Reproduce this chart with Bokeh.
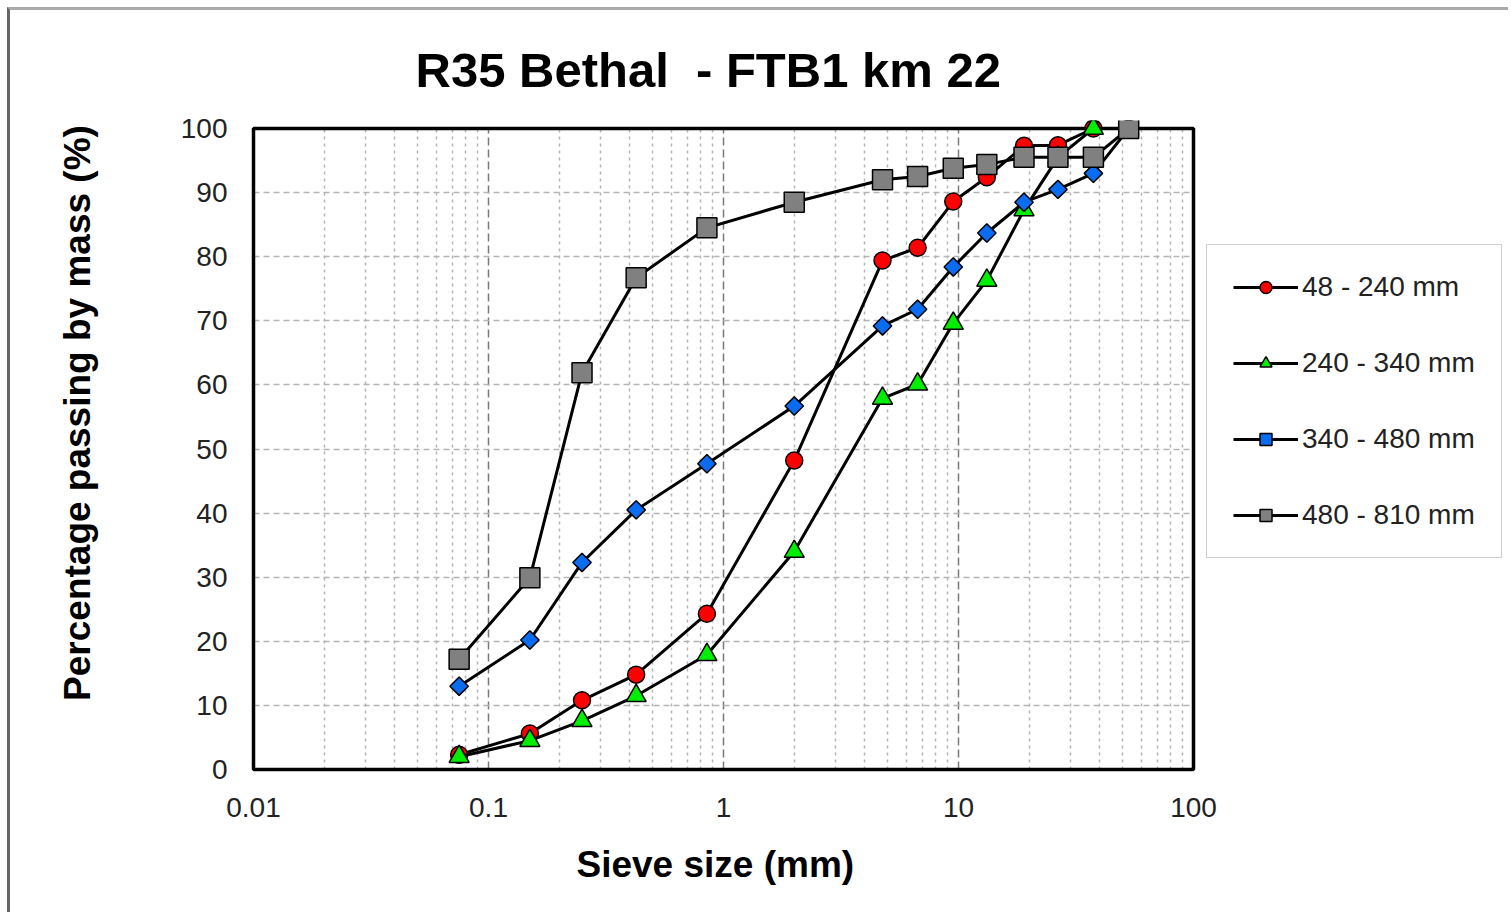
from bokeh.plotting import figure
from bokeh.models import (Range1d, FixedTicker, CustomJSTickFormatter, Legend,
                          LegendItem, Title, Grid, LinearAxis)
from bokeh.embed import file_html
from bokeh.resources import INLINE
import numpy as np

# ---------------- data ----------------
sieve_mm = [0.075, 0.15, 0.25, 0.425, 0.85, 2.0, 4.75, 6.7, 9.5, 13.2, 19.0, 26.5, 37.5, 53.0]
pass_48_240 = [2.3, 5.6, 10.8, 14.8, 24.3, 48.2, 79.4, 81.4, 88.6, 92.4, 97.3, 97.4, 100.0, 100.0]
pass_240_340 = [2.0, 4.5, 7.6, 11.5, 17.9, 34.0, 57.9, 60.1, 69.6, 76.3, 87.3, 95.5, 100.0, 100.0]
pass_340_480 = [13.0, 20.2, 32.3, 40.5, 47.7, 56.7, 69.2, 71.8, 78.4, 83.7, 88.5, 90.5, 93.0, 100.0]
pass_480_810 = [17.2, 29.9, 61.9, 76.7, 84.5, 88.5, 92.0, 92.5, 93.8, 94.4, 95.5, 95.5, 95.5, 100.0]
series_labels = ["48 - 240 mm", "240 - 340 mm", "340 - 480 mm", "480 - 810 mm"]
x_tick_values = [0.01, 0.1, 1, 10, 100]
y_tick_values = [0, 10, 20, 30, 40, 50, 60, 70, 80, 90, 100]
chart_title = "R35 Bethal\u00a0 - FTB1 km 22"
x_title = "Sieve size (mm)"
y_title = "Percentage passing by mass (%)"

OFF = 10                      # outer border offset (margin + border)
W, H = 1511 - OFF, 915 - OFF
# data-area edges in canvas pixels
DL, DR, DT, DB = 253 - OFF, 1193 - OFF, 128 - OFF, 769 - OFF
PAD = 8
# frame edges (frame also hosts the legend on the right)
FL, FR, FT, FB = DL - PAD, W, DT - PAD, DB + PAD
FONT = "Liberation Sans"

xmin, xmax = x_tick_values[0], x_tick_values[-1]
ymin, ymax = y_tick_values[0], y_tick_values[-1]
px_per_dec = (DR - DL) / (np.log10(xmax) - np.log10(xmin))
px_per_unit = (DB - DT) / (ymax - ymin)
x_start = 10 ** (np.log10(xmin) - (DL - FL) / px_per_dec)
x_end = 10 ** (np.log10(xmax) + (FR - DR) / px_per_dec)
y_start = ymin - (FB - DB) / px_per_unit
y_end = ymax + (DT - FT) / px_per_unit

p = figure(width=W, height=H, x_axis_type="log",
           x_range=Range1d(x_start, x_end), y_range=Range1d(y_start, y_end),
           output_backend="svg", toolbar_location=None,
           min_border_left=FL, min_border_right=0,
           min_border_top=FT, min_border_bottom=H - FB,
           background_fill_color="white", border_fill_color="white")
p.styles = {"margin-left": "7px", "margin-top": "7px",
            "border-left": "3px solid #666666",
            "border-top": "3px solid #aaaaaa"}
p.outline_line_color = None

# title
p.title.text = chart_title
p.title.text_font = FONT
p.title.text_font_size = "49px"
p.title.text_font_style = "bold"
p.title.text_color = "black"
p.title.align = "left"
p.title.offset = (415 - OFF) - FL
p.title.standoff = 48

# axes
minor = [k * 10.0 ** d for d in range(-2, 2) for k in range(2, 10)]
p.xaxis.ticker = FixedTicker(ticks=x_tick_values, minor_ticks=minor)
p.xaxis.formatter = CustomJSTickFormatter(code="return String(parseFloat(tick.toPrecision(6)))")
p.yaxis.ticker = FixedTicker(ticks=y_tick_values)
p.xaxis.bounds = (xmin, xmax)
p.yaxis.bounds = (ymin, ymax)
for ax in (p.xaxis[0], p.yaxis[0]):
    ax.axis_line_color = None
    ax.major_tick_line_color = None
    ax.minor_tick_line_color = None
    ax.major_label_text_font = FONT
    ax.major_label_text_font_size = "28px"
    ax.major_label_text_color = "#222222"
p.xaxis.major_label_standoff = 14
p.yaxis.major_label_standoff = 12

# y-axis title on a tick-less outer axis; leading no-break spaces lift the
# centred label so it sits where the reference has it
yl_axis = LinearAxis(ticker=FixedTicker(ticks=[]),
                     axis_label="\u00a0" * 7 + y_title,
                     axis_label_standoff=80,
                     axis_label_text_font=FONT, axis_label_text_font_size="37px",
                     axis_label_text_font_style="bold", axis_label_text_color="black",
                     axis_line_color=None, major_tick_line_color=None,
                     minor_tick_line_color=None, major_tick_out=0, minor_tick_out=0)
p.add_layout(yl_axis, "left")

# x-axis title
xlab = Title(text=x_title, align="left",
             offset=(576 - OFF) - FL, standoff=45,
             text_font=FONT, text_font_size="37px", text_font_style="bold",
             text_color="black")
p.add_layout(xlab, "below")

# grids
xg, yg = p.xgrid[0], p.ygrid[0]
xg.bounds = (xmin, xmax)
yg.bounds = (ymin, ymax)
if "cross_bounds" in Grid.properties():
    xg.cross_bounds = (ymin, ymax)
    yg.cross_bounds = (xmin, xmax)
xg.grid_line_color = "#7a7a7a"
xg.grid_line_dash = "8 4"
xg.grid_line_width = 1.5
xg.minor_grid_line_color = "#b4b4b4"
xg.minor_grid_line_dash = "3 4"
xg.minor_grid_line_width = 1.5
yg.grid_line_color = "#b4b4b4"
yg.grid_line_dash = "6 4"
yg.grid_line_width = 1.5

# plot-area border
p.quad(left=[xmin], right=[xmax], bottom=[ymin], top=[ymax],
       fill_color=None, line_color="black", line_width=3.5)

# series
series = [
    (pass_48_240, "circle", "#ff0000", 17, 0.0),
    (pass_240_340, "triangle", "#00ee00", 20, 0.0),
    (pass_340_480, "square", "#0a6cf0", 13, np.pi / 4),
    (pass_480_810, "square", "#808080", 20, 0.0),
]
items = []
for (vals, marker, color, size, ang), label in zip(series, series_labels):
    ln = p.line(sieve_mm, vals, line_color="black", line_width=3)
    sc = p.scatter(sieve_mm, vals, marker=marker, size=size, angle=ang,
                   fill_color=color, line_color="black", line_width=1.5)
    items.append(LegendItem(label=label, renderers=[ln, sc]))

legend = Legend(items=items, location=((1206 - OFF) - FL, FB - (558 - OFF)),
                border_line_color="#a0a0a0", border_line_width=1.5,
                background_fill_color="white", background_fill_alpha=1.0,
                label_text_font=FONT, label_text_font_size="28px",
                label_text_color="#222222",
                glyph_width=65, glyph_height=30, spacing=44, padding=26,
                label_standoff=4, margin=0)
p.add_layout(legend, "center")

open("out.html", "w").write(file_html(p, INLINE))
